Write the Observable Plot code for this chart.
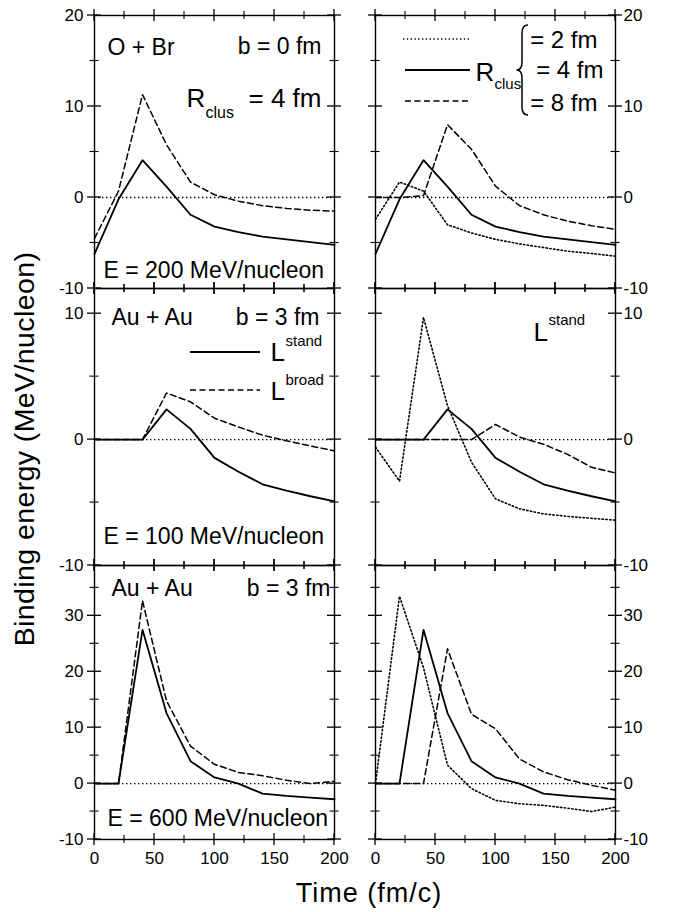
<!DOCTYPE html>
<html>
<head>
<meta charset="utf-8">
<script src="https://cdn.jsdelivr.net/npm/d3@7"></script>
<script src="https://cdn.jsdelivr.net/npm/@observablehq/plot@0.6"></script>
<style>
  body { margin: 0; background: #fff; }
  #chart { position: relative; width: 678px; height: 912px; font-family: "Liberation Sans", Arial, Helvetica, sans-serif; color: #000; }
  #chart svg { position: absolute; overflow: visible; }
  .ytitle { position: absolute; left: 24px; top: 449px; transform: translate(-50%, -50%) rotate(-90deg); white-space: nowrap; font-size: 28.5px; letter-spacing: 0.4px; line-height: 1; }
  .xtitle { position: absolute; left: 369px; top: 880px; transform: translateX(-50%); white-space: nowrap; font-size: 27px; letter-spacing: 1px; line-height: 1; }
</style>
</head>
<body>
<div id="chart">
  <div class="ytitle">Binding energy (MeV/nucleon)</div>
  <div class="xtitle">Time (fm/c)</div>
</div>
<script>
// ---------- data ----------
const time = [0, 20, 40, 60, 80, 100, 120, 140, 160, 180, 200];

// O + Br, b = 0 fm, E = 200 MeV/nucleon
const obrStand4 = [-6.2, -0.2, 4.1, 1.2, -1.9, -3.2, -3.8, -4.3, -4.6, -4.9, -5.2];
const obrBroad4 = [-4.5, 0.7, 11.3, 5.8, 1.7, 0.3, -0.4, -0.9, -1.2, -1.4, -1.5];
const obrStand2 = [-2.4, 1.7, 0.7, -3.0, -3.9, -4.6, -5.1, -5.5, -5.9, -6.15, -6.45];
const obrStand8 = [0, 0, 0.2, 8.0, 5.3, 1.25, -0.9, -1.9, -2.6, -3.1, -3.5];

// Au + Au, b = 3 fm, E = 100 MeV/nucleon
const au100Stand4 = [0, 0, 0, 2.4, 0.85, -1.45, -2.55, -3.55, -4.05, -4.5, -4.9];
const au100Broad4 = [0, 0, 0, 3.7, 3.0, 1.7, 1.0, 0.35, -0.1, -0.5, -0.9];
const au100Stand2 = [-0.6, -3.3, 9.7, 2.7, -1.8, -4.7, -5.5, -5.9, -6.1, -6.25, -6.4];
const au100Stand8 = [0, 0, 0, 0, 0, 1.2, 0.2, -0.37, -1.17, -2.2, -2.65];

// Au + Au, b = 3 fm, E = 600 MeV/nucleon
const au600Stand4 = [0, 0, 27.5, 12.6, 4.0, 1.1, 0, -1.8, -2.2, -2.5, -2.8];
const au600Broad4 = [0, 0, 32.7, 14.8, 6.7, 3.45, 2.0, 1.4, 0.6, 0, 0.4];
const au600Stand2 = [0, 33.5, 20.7, 3.3, -0.9, -3.0, -3.6, -3.9, -4.4, -5.0, -4.2];
const au600Stand8 = [0, 0, 0, 24.1, 12.4, 9.8, 4.4, 2.1, 0.7, -0.3, -1.2];

// ticks
const xMajor = [0, 50, 100, 150, 200];
const xMinor = [25, 75, 125, 175];
const yTopMajor = [-10, 0, 10, 20], yTopMinor = [-5, 5, 15];
const yMidMajor = [-10, 0, 10], yMidMinor = [-5, 5];
const yBotMajor = [-10, 0, 10, 20, 30], yBotMinor = [-5, 5, 15, 25, 35];
const yTopDomain = [-10, 20], yMidDomain = [-10, 12], yBotDomain = [-10, 39];

// ---------- styles ----------
const solid = {strokeWidth: 1.8};
const dashed = {strokeWidth: 1.5, strokeDasharray: "6,3.5"};
const dotted = {strokeWidth: 1.6, strokeDasharray: "1.4,2.4"};

const rows = vals => time.map((t, i) => ({t, v: vals[i]}));

const note = (text, frameAnchor, dx, dy, fontSize, textAnchor = "start") =>
  Plot.text([text], {text: d => d, frameAnchor, dx, dy, fontSize, textAnchor, lineAnchor: "bottom"});

const chart = document.getElementById("chart");
const panels = [];

function panel({col, row, series, yDomain, yMajor, yMinor, notes = []}) {
  const c = col === 0
    ? {left: 0, width: 360, marginLeft: 94, marginRight: 26}
    : {left: 360, width: 318, marginLeft: 15, marginRight: 63};
  const r = [
    {top: 0, marginTop: 15, plotH: 273, marginBottom: 12},
    {top: 276, marginTop: 12, plotH: 277, marginBottom: 12},
    {top: 553, marginTop: 12, plotH: 274, marginBottom: 40}
  ][row];
  const height = r.marginTop + r.plotH + r.marginBottom;
  const fmt = d => String(d);
  const marks = [
    Plot.ruleY([0], {strokeDasharray: "1.4,2.6", strokeWidth: 1.4}),
    ...series.map(([vals, st]) => Plot.line(rows(vals), {x: "t", y: "v", ...st})),
    Plot.frame({strokeWidth: 1.4}),
    Plot.axisY(yMajor, {anchor: col === 0 ? "left" : "right", tickSize: 0, tickPadding: col === 0 ? 11 : 8,
      stroke: "none", label: null, tickFormat: fmt}),
    ...(row === 2 ? [Plot.axisX(xMajor, {anchor: "bottom", tickSize: 0, tickPadding: 12, stroke: "none", label: null, tickFormat: fmt})] : []),
    ...notes
  ];
  const svg = Plot.plot({
    width: c.width, height,
    marginLeft: c.marginLeft, marginRight: c.marginRight,
    marginTop: r.marginTop, marginBottom: r.marginBottom,
    style: {background: "none", overflow: "visible", fontSize: "17px",
      fontFamily: '"Liberation Sans", Arial, Helvetica, sans-serif', color: "#000"},
    x: {domain: [0, 200], axis: null},
    y: {domain: yDomain, axis: null},
    marks
  });
  svg.style.left = c.left + "px";
  svg.style.top = r.top + "px";
  chart.appendChild(svg);
  panels.push({svg, left: c.left, top: r.top, yMajor, yMinor});
  return svg;
}

// ---------- panels ----------
panel({col: 0, row: 0, yDomain: yTopDomain, yMajor: yTopMajor, yMinor: yTopMinor,
  series: [[obrStand4, solid], [obrBroad4, dashed]],
  notes: [
    note("O + Br", "top-left", 13, 39, 23),
    note("b = 0 fm", "top-right", -13, 38, 23, "end"),
    note("R", "top-left", 92, 91, 26),
    note("clus", "top-left", 111, 102, 16),
    note("= 4 fm", "top-right", -13, 91, 26, "end"),
    note("E = 200 MeV/nucleon", "bottom-left", 9, -11, 23)
  ]});

const tr = panel({col: 1, row: 0, yDomain: yTopDomain, yMajor: yTopMajor, yMinor: yTopMinor,
  series: [[obrStand2, dotted], [obrStand4, solid], [obrStand8, dashed]],
  notes: [
    note("R", "top-left", 100, 65, 26),
    note("clus", "top-left", 119, 73, 15),
    note("= 2 fm", "top-right", -18, 32, 24, "end"),
    note("= 4 fm", "top-right", -12, 62, 24, "end"),
    note("= 8 fm", "top-right", -18, 95, 24, "end")
  ]});

const ml = panel({col: 0, row: 1, yDomain: yMidDomain, yMajor: yMidMajor, yMinor: yMidMinor,
  series: [[au100Stand4, solid], [au100Broad4, dashed]],
  notes: [
    note("Au + Au", "top-left", 17, 36, 23),
    note("b = 3 fm", "top-right", -15, 36, 23, "end"),
    note("L", "top-left", 176, 72, 26),
    note("stand", "top-left", 191, 57, 15),
    note("L", "top-left", 176, 111, 26),
    note("broad", "top-left", 191, 96, 15),
    note("E = 100 MeV/nucleon", "bottom-left", 9, -22, 23)
  ]});

panel({col: 1, row: 1, yDomain: yMidDomain, yMajor: yMidMajor, yMinor: yMidMinor,
  series: [[au100Stand2, dotted], [au100Stand4, solid], [au100Stand8, dashed]],
  notes: [
    note("L", "top-left", 158, 52, 26),
    note("stand", "top-left", 173, 36, 15)
  ]});

panel({col: 0, row: 2, yDomain: yBotDomain, yMajor: yBotMajor, yMinor: yBotMinor,
  series: [[au600Stand4, solid], [au600Broad4, dashed]],
  notes: [
    note("Au + Au", "top-left", 17, 30, 23),
    note("b = 3 fm", "top-right", -4, 30, 23, "end"),
    note("E = 600 MeV/nucleon", "bottom-left", 13, -14, 23)
  ]});

panel({col: 1, row: 2, yDomain: yBotDomain, yMajor: yBotMajor, yMinor: yBotMinor,
  series: [[au600Stand2, dotted], [au600Stand4, solid], [au600Stand8, dashed]]});

// ---------- legend samples ----------
function sample(svg, x1, x2, y, st) {
  d3.select(svg).append("line")
    .attr("x1", x1).attr("x2", x2).attr("y1", y).attr("y2", y)
    .attr("stroke", "black").attr("stroke-width", st.strokeWidth)
    .attr("stroke-dasharray", st.strokeDasharray || null);
}
sample(tr, 43, 110, 39, dotted);
sample(tr, 45, 110, 70, solid);
sample(tr, 45, 110, 101, dashed);
sample(ml, 190, 260, 76, solid);
sample(ml, 190, 260, 114, dashed);

// curly brace grouping the three R_clus values
d3.select(tr).append("path")
  .attr("d", "M168,25 Q162,25 162,33 L162,62 Q162,70 156.5,70 Q162,70 162,78 L162,107 Q162,115 168,115")
  .attr("fill", "none").attr("stroke", "black").attr("stroke-width", 1.5);

// ---------- tick marks crossing every frame edge (one overlay, placed with each plot's scales) ----------
const overlay = d3.select(chart).append("svg")
  .attr("width", 678).attr("height", 912)
  .style("position", "absolute").style("left", "0px").style("top", "0px")
  .style("overflow", "visible").style("pointer-events", "none");
const tg = overlay.append("g").attr("stroke", "black").attr("fill", "none");
for (const p of panels) {
  const sx = p.svg.scale("x"), sy = p.svg.scale("y");
  const [xl, xr] = sx.range, [yb, yt] = sy.range;
  const vx = (vals, half, w) => vals.forEach(v => {
    const x = p.left + sx.apply(v);
    for (const y0 of [yb, yt])
      tg.append("line").attr("x1", x).attr("x2", x)
        .attr("y1", p.top + y0 - half).attr("y2", p.top + y0 + half).attr("stroke-width", w);
  });
  const vy = (vals, half, w) => vals.forEach(v => {
    const y = p.top + sy.apply(v);
    for (const x0 of [xl, xr])
      tg.append("line").attr("x1", p.left + x0 - half).attr("x2", p.left + x0 + half)
        .attr("y1", y).attr("y2", y).attr("stroke-width", w);
  });
  vx(xMajor, 6, 1.3); vx(xMinor, 4, 1.1);
  vy(p.yMajor, 7, 1.3); vy(p.yMinor, 4.5, 1.1);
}
</script>
</body>
</html>
